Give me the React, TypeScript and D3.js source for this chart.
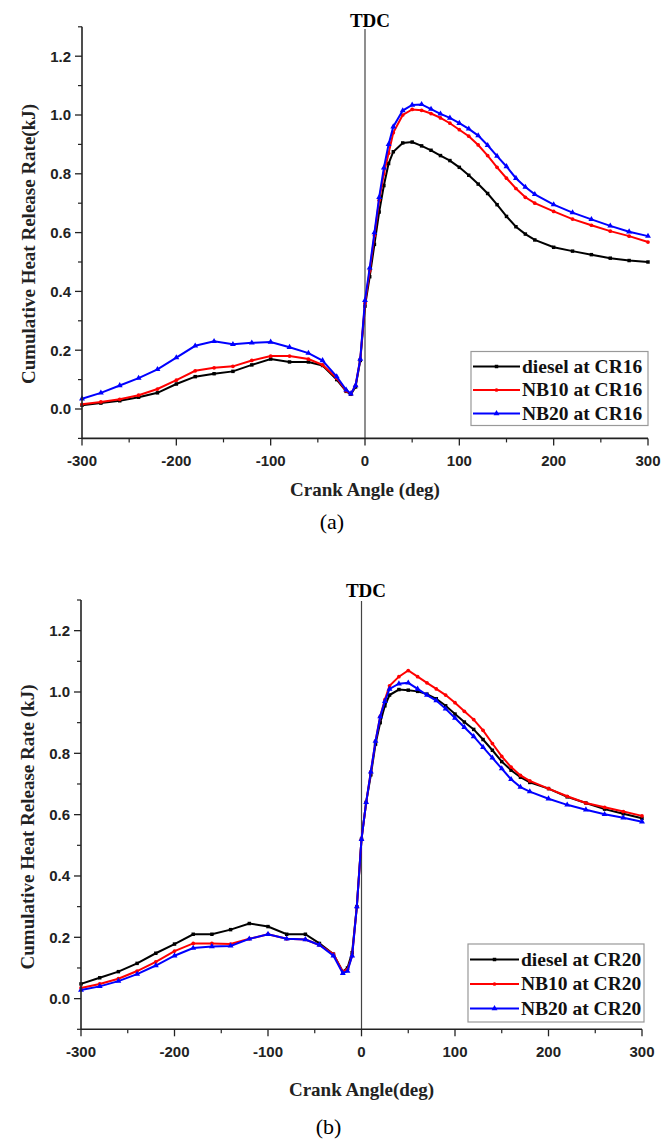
import React from 'react';
import * as d3 from 'd3';

// Crank angle grid (deg) shared by all series
const angles = [-300, -280, -260, -240, -220, -200, -180, -160, -140, -120, -100, -80, -60, -45, -30, -20, -15, -10, -5, 0, 5, 10, 15, 20, 25, 30, 40, 50, 60, 70, 80, 90, 100, 110, 120, 130, 140, 150, 160, 170, 180, 200, 220, 240, 260, 280, 300];

// (a) CR16
const dieselCR16 = [0.013, 0.02, 0.028, 0.04, 0.055, 0.085, 0.11, 0.12, 0.128, 0.15, 0.17, 0.16, 0.16, 0.148, 0.1, 0.06, 0.05, 0.075, 0.165, 0.35, 0.45, 0.56, 0.67, 0.76, 0.835, 0.875, 0.905, 0.908, 0.895, 0.88, 0.862, 0.845, 0.822, 0.795, 0.765, 0.733, 0.695, 0.655, 0.62, 0.595, 0.575, 0.55, 0.537, 0.525, 0.513, 0.505, 0.5];
const nb10CR16 = [0.016, 0.024, 0.033, 0.047, 0.068, 0.098, 0.13, 0.14, 0.145, 0.165, 0.18, 0.18, 0.17, 0.15, 0.105, 0.062, 0.052, 0.08, 0.17, 0.36, 0.47, 0.59, 0.71, 0.8, 0.87, 0.94, 1.0, 1.019, 1.016, 1.005, 0.99, 0.972, 0.95, 0.928, 0.898, 0.862, 0.822, 0.785, 0.75, 0.72, 0.7, 0.672, 0.646, 0.625, 0.605, 0.588, 0.568];
const nb20CR16 = [0.035, 0.055, 0.08, 0.105, 0.135, 0.175, 0.215, 0.23, 0.22, 0.225, 0.228, 0.21, 0.19, 0.165, 0.11, 0.065, 0.052, 0.08, 0.17, 0.37, 0.48, 0.6, 0.72, 0.82, 0.9, 0.96, 1.015, 1.034, 1.036, 1.02, 1.004, 0.99, 0.972, 0.953, 0.93, 0.897, 0.86, 0.825, 0.785, 0.755, 0.73, 0.695, 0.668, 0.645, 0.623, 0.603, 0.588];

// (b) CR20
const dieselCR20 = [0.048, 0.068, 0.088, 0.115, 0.148, 0.178, 0.21, 0.21, 0.225, 0.245, 0.235, 0.21, 0.21, 0.18, 0.145, 0.088, 0.1, 0.15, 0.3, 0.52, 0.64, 0.73, 0.83, 0.9, 0.955, 0.99, 1.008, 1.006, 1.002, 0.993, 0.978, 0.955, 0.928, 0.902, 0.878, 0.845, 0.81, 0.773, 0.745, 0.722, 0.705, 0.685, 0.658, 0.638, 0.618, 0.603, 0.588];
const nb10CR20 = [0.035, 0.048, 0.065, 0.09, 0.12, 0.155, 0.18, 0.18, 0.178, 0.195, 0.21, 0.195, 0.193, 0.175, 0.145, 0.088, 0.095, 0.14, 0.3, 0.52, 0.64, 0.74, 0.84, 0.92, 0.975, 1.02, 1.05, 1.07, 1.05, 1.03, 1.01, 0.99, 0.965, 0.937, 0.91, 0.875, 0.832, 0.79, 0.755, 0.728, 0.71, 0.685, 0.66, 0.638, 0.624, 0.61, 0.596];
const nb20CR20 = [0.028, 0.04, 0.057, 0.08, 0.108, 0.14, 0.165, 0.17, 0.172, 0.195, 0.21, 0.195, 0.193, 0.175, 0.14, 0.083, 0.09, 0.14, 0.3, 0.52, 0.64, 0.74, 0.84, 0.92, 0.97, 1.01, 1.027, 1.03, 1.01, 0.99, 0.972, 0.945, 0.915, 0.885, 0.855, 0.82, 0.785, 0.75, 0.715, 0.69, 0.675, 0.652, 0.632, 0.616, 0.601, 0.59, 0.577];

const xTicks = [-300, -200, -100, 0, 100, 200, 300];
const xMinorTicks = [-250, -150, -50, 50, 150, 250];
const yTicks = [0, 0.2, 0.4, 0.6, 0.8, 1.0, 1.2];
const yMinorTicks = [-0.1, 0.1, 0.3, 0.5, 0.7, 0.9, 1.1, 1.3];
const labelsA = ['diesel at CR16', 'NB10 at CR16', 'NB20 at CR16'];
const labelsB = ['diesel at CR20', 'NB10 at CR20', 'NB20 at CR20'];
const colors = ['#000000', '#ff0000', '#0000ff'];
const shapes = [d3.symbolSquare, d3.symbolCircle, d3.symbolTriangle];

const SERIF = '"Liberation Serif", "Times New Roman", serif';
const SANS = '"Liberation Sans", Arial, sans-serif';

type Cfg = {
  x0: number; x1: number; yT: number; yB: number;
  yTitle: string; yTitleX: number; yTitleY: number;
  xTitle: string; xTitleY: number;
  caption: string; captionY: number;
  tdcX: number; tdcY: number; tdcLineTop: number;
  legend: { x: number; y: number; w: number; h: number; first: number; gap: number; lx0: number; lx1: number; tx: number };
};

function Panel({ cfg, series, labels }: { cfg: Cfg; series: number[][]; labels: string[] }) {
  const x = d3.scaleLinear().domain([-300, 300]).range([cfg.x0, cfg.x1]);
  const y = d3.scaleLinear().domain([-0.1, 1.3]).range([cfg.yB, cfg.yT]);
  const line = d3.line<number>().x((_, i) => x(angles[i])).y((v) => y(v));
  const symSizes = [12, 11, 15];
  const axisColor = '#222';
  const L = cfg.legend;
  return (
    <g>
      {/* TDC line */}
      <line x1={x(0)} x2={x(0)} y1={cfg.tdcLineTop} y2={cfg.yB} stroke="#444" strokeWidth={1.2} />
      <text x={cfg.tdcX} y={cfg.tdcY} textAnchor="middle" fontFamily={SERIF} fontWeight="bold" fontSize={19}>TDC</text>
      {/* series */}
      {series.map((vals, si) => (
        <g key={si}>
          <path d={line(vals) || ''} fill="none" stroke={colors[si]} strokeWidth={2} />
          {vals.map((v, i) => (
            <path key={i} transform={`translate(${x(angles[i])},${y(v)})`} d={d3.symbol().type(shapes[si]).size(symSizes[si])() || ''} fill={colors[si]} />
          ))}
        </g>
      ))}
      {/* axes */}
      <line x1={cfg.x0} x2={cfg.x0} y1={cfg.yT} y2={cfg.yB} stroke={axisColor} strokeWidth={1.6} />
      <line x1={cfg.x0} x2={cfg.x1} y1={cfg.yB} y2={cfg.yB} stroke={axisColor} strokeWidth={1.6} />
      {yTicks.map((t) => (
        <g key={'y' + t}>
          <line x1={cfg.x0 - 7} x2={cfg.x0} y1={y(t)} y2={y(t)} stroke={axisColor} strokeWidth={1.3} />
          <text x={cfg.x0 - 11} y={y(t)} dy="0.36em" textAnchor="end" fontFamily={SANS} fontWeight="bold" fontSize={15} fill="#222">{d3.format('.1f')(t)}</text>
        </g>
      ))}
      {yMinorTicks.map((t) => (
        <line key={'ym' + t} x1={cfg.x0 - 4} x2={cfg.x0} y1={y(t)} y2={y(t)} stroke={axisColor} strokeWidth={1.2} />
      ))}
      {xTicks.map((t) => (
        <g key={'x' + t}>
          <line x1={x(t)} x2={x(t)} y1={cfg.yB} y2={cfg.yB + 7} stroke={axisColor} strokeWidth={1.3} />
          <text x={x(t)} y={cfg.yB + 28} textAnchor="middle" fontFamily={SANS} fontWeight="bold" fontSize={15} fill="#222">{t}</text>
        </g>
      ))}
      {xMinorTicks.map((t) => (
        <line key={'xm' + t} x1={x(t)} x2={x(t)} y1={cfg.yB} y2={cfg.yB + 4} stroke={axisColor} strokeWidth={1.2} />
      ))}
      {/* titles */}
      <text x={(cfg.x0 + cfg.x1) / 2} y={cfg.xTitleY} textAnchor="middle" fontFamily={SERIF} fontWeight="bold" fontSize={19} fill="#222">{cfg.xTitle}</text>
      <text transform={`translate(${cfg.yTitleX},${cfg.yTitleY}) rotate(-90)`} textAnchor="middle" dy="0.35em" fontFamily={SERIF} fontWeight="bold" fontSize={19} fill="#222">{cfg.yTitle}</text>
      <text x={(cfg.x0 + cfg.x1) / 2 - 33} y={cfg.captionY} textAnchor="middle" fontFamily={SERIF} fontSize={22} fill="#000">{cfg.caption}</text>
      {/* legend */}
      <rect x={L.x} y={L.y} width={L.w} height={L.h} fill="#fff" stroke="#999" strokeWidth={1.2} />
      {labels.map((lab, i) => {
        const ry = L.y + L.first + i * L.gap;
        return (
          <g key={lab}>
            <line x1={L.lx0} x2={L.lx1} y1={ry} y2={ry} stroke={colors[i]} strokeWidth={2} />
            <path transform={`translate(${(L.lx0 + L.lx1) / 2},${ry})`} d={d3.symbol().type(shapes[i]).size(symSizes[i])() || ''} fill={colors[i]} />
            <text x={L.tx} y={ry} dy="0.33em" fontFamily={SERIF} fontWeight="bold" fontSize={19.5} fill="#111">{lab}</text>
          </g>
        );
      })}
    </g>
  );
}

const cfgA: Cfg = {
  x0: 82, x1: 648, yT: 26.8, yB: 438.4,
  yTitle: 'Cumulative Heat Release Rate(kJ)', yTitleX: 28, yTitleY: 244,
  xTitle: 'Crank Angle (deg)', xTitleY: 496,
  caption: '(a)', captionY: 529,
  tdcX: 370, tdcY: 27, tdcLineTop: 29,
  legend: { x: 471, y: 351.5, w: 177, h: 74, first: 15, gap: 23.5, lx0: 473, lx1: 520, tx: 522 },
};

const cfgB: Cfg = {
  x0: 81, x1: 642, yT: 600, yB: 1029.3,
  yTitle: 'Cumulative Heat Release Rate (kJ)', yTitleX: 27, yTitleY: 827,
  xTitle: 'Crank Angle(deg)', xTitleY: 1096,
  caption: '(b)', captionY: 1134,
  tdcX: 366, tdcY: 597, tdcLineTop: 601,
  legend: { x: 468, y: 944, w: 176, h: 78, first: 15.5, gap: 24.5, lx0: 470, lx1: 519, tx: 521 },
};

export default function App() {
  return (
    <svg width={662} height={1142} style={{ position: 'absolute', left: 0, top: 0, background: '#fff' }}>
      <rect width={662} height={1142} fill="#fff" />
      <Panel cfg={cfgA} series={[dieselCR16, nb10CR16, nb20CR16]} labels={labelsA} />
      <Panel cfg={cfgB} series={[dieselCR20, nb10CR20, nb20CR20]} labels={labelsB} />
    </svg>
  );
}
